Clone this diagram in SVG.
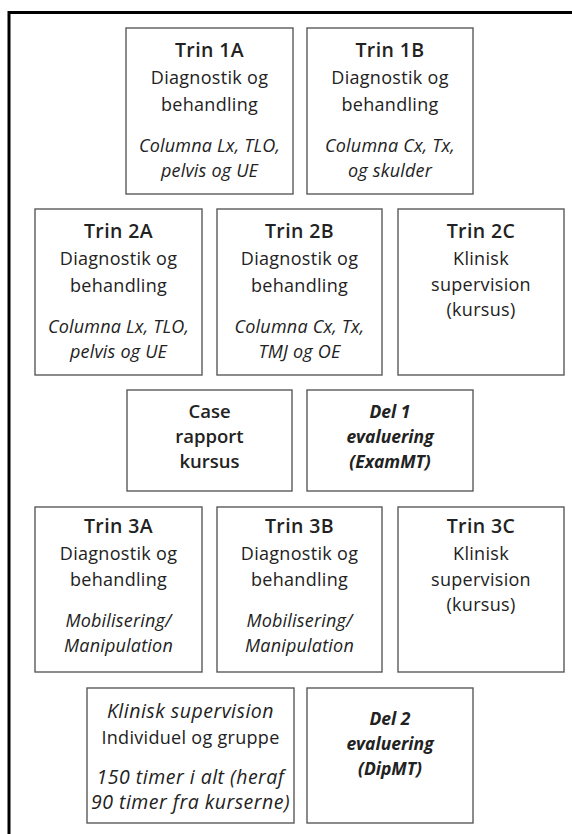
<svg xmlns="http://www.w3.org/2000/svg" width="572" height="834" viewBox="0 0 572 834">
<style>
.box{fill:#fff;stroke:#5a5a5a;stroke-width:1.4}
text{font-family:"Open Sans","DejaVu Sans",sans-serif;fill:#222;text-anchor:middle}
.t{font-size:19.5px;font-weight:600;letter-spacing:0.4px}
.n{font-size:18px;letter-spacing:0.3px}
.c{font-size:18.5px;font-weight:600}
.i{font-size:18px;font-style:italic;letter-spacing:0.2px}
.ib{font-size:17.5px;font-style:italic;font-weight:bold}
.il{font-size:19.5px;font-style:italic;letter-spacing:0.5px}
</style>
<rect width="572" height="834" fill="#fff"/>
<path d="M9 840 V12.5 H580" fill="none" stroke="#000" stroke-width="3"/>
<g id="trin1a"><rect class="box" x="126" y="28" width="167" height="166"/>
<text class="t" x="209.5" y="57">Trin 1A</text><text class="n" x="209.5" y="84">Diagnostik og</text><text class="n" x="209.5" y="111">behandling</text><text class="i" x="209.5" y="152">Columna Lx, TLO,</text><text class="i" x="209.5" y="177">pelvis og UE</text></g>
<g id="trin1b"><rect class="box" x="307" y="28" width="166" height="166"/>
<text class="t" x="390" y="57">Trin 1B</text><text class="n" x="390" y="84">Diagnostik og</text><text class="n" x="390" y="111">behandling</text><text class="i" x="390" y="152">Columna Cx, Tx,</text><text class="i" x="390" y="177">og skulder</text></g>
<g id="trin2a"><rect class="box" x="35" y="209" width="167" height="166"/>
<text class="t" x="118.5" y="238">Trin 2A</text><text class="n" x="118.5" y="265">Diagnostik og</text><text class="n" x="118.5" y="292">behandling</text><text class="i" x="118.5" y="333">Columna Lx, TLO,</text><text class="i" x="118.5" y="358">pelvis og UE</text></g>
<g id="trin2b"><rect class="box" x="217" y="209" width="165" height="166"/>
<text class="t" x="299.5" y="238">Trin 2B</text><text class="n" x="299.5" y="265">Diagnostik og</text><text class="n" x="299.5" y="292">behandling</text><text class="i" x="299.5" y="333">Columna Cx, Tx,</text><text class="i" x="299.5" y="358">TMJ og OE</text></g>
<g id="trin2c"><rect class="box" x="398" y="209" width="166" height="166"/>
<text class="t" x="481" y="238">Trin 2C</text><text class="n" x="481" y="265">Klinisk</text><text class="n" x="481" y="291">supervision</text><text class="n" x="481" y="316">(kursus)</text></g>
<g id="case"><rect class="box" x="127" y="390" width="165" height="101"/>
<text class="c" x="209.5" y="418">Case</text><text class="c" x="209.5" y="443">rapport</text><text class="c" x="209.5" y="468">kursus</text></g>
<g id="del1"><rect class="box" x="307" y="390" width="166" height="101"/>
<text class="ib" x="390" y="418">Del 1</text><text class="ib" x="390" y="443">evaluering</text><text class="ib" x="390" y="468">(ExamMT)</text></g>
<g id="trin3a"><rect class="box" x="35" y="507" width="167" height="165"/>
<text class="t" x="118.5" y="533">Trin 3A</text><text class="n" x="118.5" y="560">Diagnostik og</text><text class="n" x="118.5" y="586">behandling</text><text class="i" x="118.5" y="627">Mobilisering/</text><text class="i" x="118.5" y="652">Manipulation</text></g>
<g id="trin3b"><rect class="box" x="217" y="507" width="165" height="165"/>
<text class="t" x="299.5" y="533">Trin 3B</text><text class="n" x="299.5" y="560">Diagnostik og</text><text class="n" x="299.5" y="586">behandling</text><text class="i" x="299.5" y="627">Mobilisering/</text><text class="i" x="299.5" y="652">Manipulation</text></g>
<g id="trin3c"><rect class="box" x="398" y="507" width="166" height="165"/>
<text class="t" x="481" y="533">Trin 3C</text><text class="n" x="481" y="560">Klinisk</text><text class="n" x="481" y="586">supervision</text><text class="n" x="481" y="611">(kursus)</text></g>
<g id="klinisk"><rect class="box" x="87" y="688" width="207" height="135"/>
<text class="il" x="190.5" y="718">Klinisk supervision</text><text class="n" x="190.5" y="744">Individuel og gruppe</text><text class="il" x="190.5" y="784">150 timer i alt (heraf</text><text class="il" x="190.5" y="809">90 timer fra kurserne)</text></g>
<g id="del2"><rect class="box" x="307" y="688" width="166" height="135"/>
<text class="ib" x="390" y="725">Del 2</text><text class="ib" x="390" y="750">evaluering</text><text class="ib" x="390" y="775">(DipMT)</text></g>
<g id="connectors"></g>
</svg>
